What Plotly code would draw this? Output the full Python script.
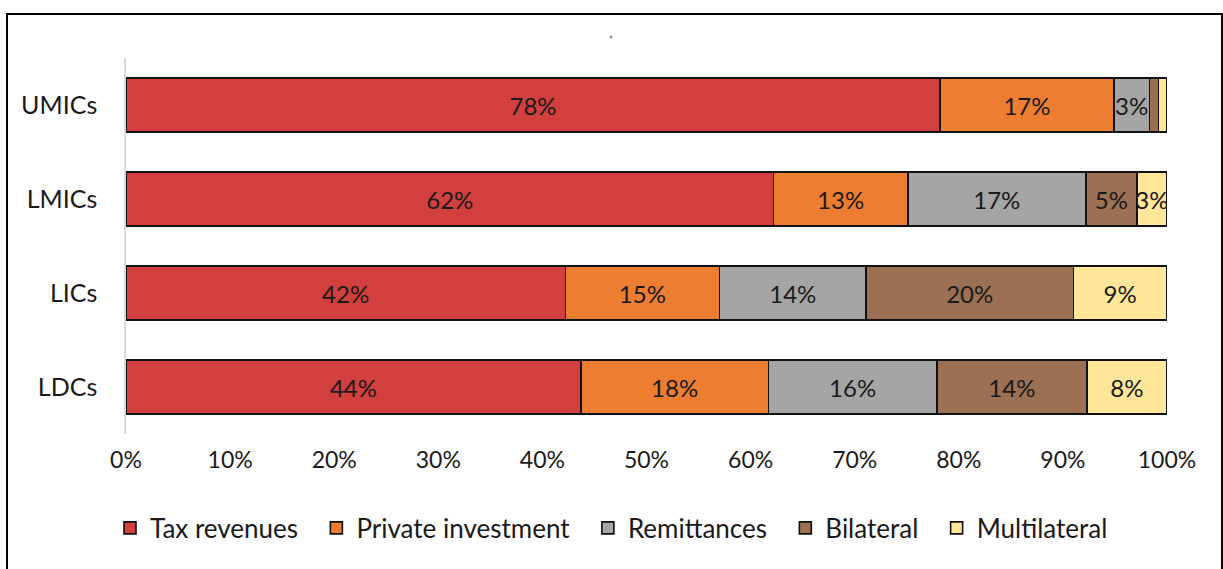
import plotly.graph_objects as go

categories = ["UMICs", "LMICs", "LICs", "LDCs"]
series_names = ["Tax revenues", "Private investment", "Remittances", "Bilateral", "Multilateral"]
tax = [78.2, 62.2, 42.2, 43.7]
private = [16.7, 12.9, 14.8, 18.0]
remittances = [3.4, 17.1, 14.1, 16.2]
bilateral = [0.9, 4.9, 19.9, 14.4]
multilateral = [0.8, 2.9, 9.0, 7.7]
x_ticks = [0, 10, 20, 30, 40, 50, 60, 70, 80, 90, 100]

colors = ["#D13F3F", "#ED7D31", "#A5A5A5", "#9C7052", "#FFE699"]
series = [tax, private, remittances, bilateral, multilateral]

W, H = 1223, 569
L, R, T, B = 126, 56, 58, 135
FONT = "Lato, Open Sans, sans-serif"
PAD = "\u00a0" * 2

fig = go.Figure()
for i, (name, vals, col) in enumerate(zip(series_names, series, colors)):
    labels = [f"{round(v)}%" if v >= 2 else "" for v in vals]
    fig.add_trace(go.Bar(
        y=categories, x=vals, name=name + (PAD if i < len(series_names) - 1 else ""),
        orientation="h",
        marker=dict(color=col, line=dict(color="#111111", width=1.6)),
        text=labels, textposition="inside", insidetextanchor="middle",
        textangle=0, constraintext="none",
        textfont=dict(family=FONT, size=24, color="#1a1a1a"),
        hoverinfo="skip",
    ))

pw = W - L - R
ph = H - T - B
def px_x(p):
    return (p - L) / pw
def px_y(p):
    return (H - B - p) / ph

fig.update_layout(
    width=W, height=H,
    margin=dict(l=L, r=R, t=T, b=B),
    barmode="stack", bargap=0.425,
    plot_bgcolor="white", paper_bgcolor="white",
    font=dict(family=FONT, size=23, color="#1a1a1a"),
    uniformtext=dict(mode="show", minsize=10),
    xaxis=dict(range=[0, 100], tickvals=x_ticks, ticktext=[f"{t}%" for t in x_ticks],
               showgrid=False, zeroline=False, showline=False, ticks="",
               tickfont=dict(family=FONT, size=23), ticklabelstandoff=10, fixedrange=True),
    yaxis=dict(categoryorder="array", categoryarray=categories[::-1],
               showgrid=False, zeroline=False, showline=True, linecolor="#D9D9D9", linewidth=1.5,
               ticks="", tickfont=dict(family=FONT, size=25), ticklabelstandoff=22, fixedrange=True),
    legend=dict(orientation="h", xref="container", yref="container", x=0.5, y=1 - 528 / H,
                xanchor="center", yanchor="middle", font=dict(family=FONT, size=26),
                traceorder="normal", itemwidth=30),
    showlegend=True,
    shapes=[
        dict(type="rect", xref="paper", yref="paper",
             x0=px_x(7), x1=px_x(1222), y0=px_y(14), y1=px_y(620),
             line=dict(color="black", width=2), fillcolor="rgba(0,0,0,0)", layer="above"),
        dict(type="circle", xref="paper", yref="paper",
             x0=px_x(609.5), x1=px_x(612.5), y0=px_y(35.5), y1=px_y(38.5),
             line=dict(width=0), fillcolor="#9a9087"),
    ],
)

fig.write_html("out.html", config={"displayModeBar": False},
               post_script="document.body.style.margin='0px';document.body.style.overflow='hidden';")
